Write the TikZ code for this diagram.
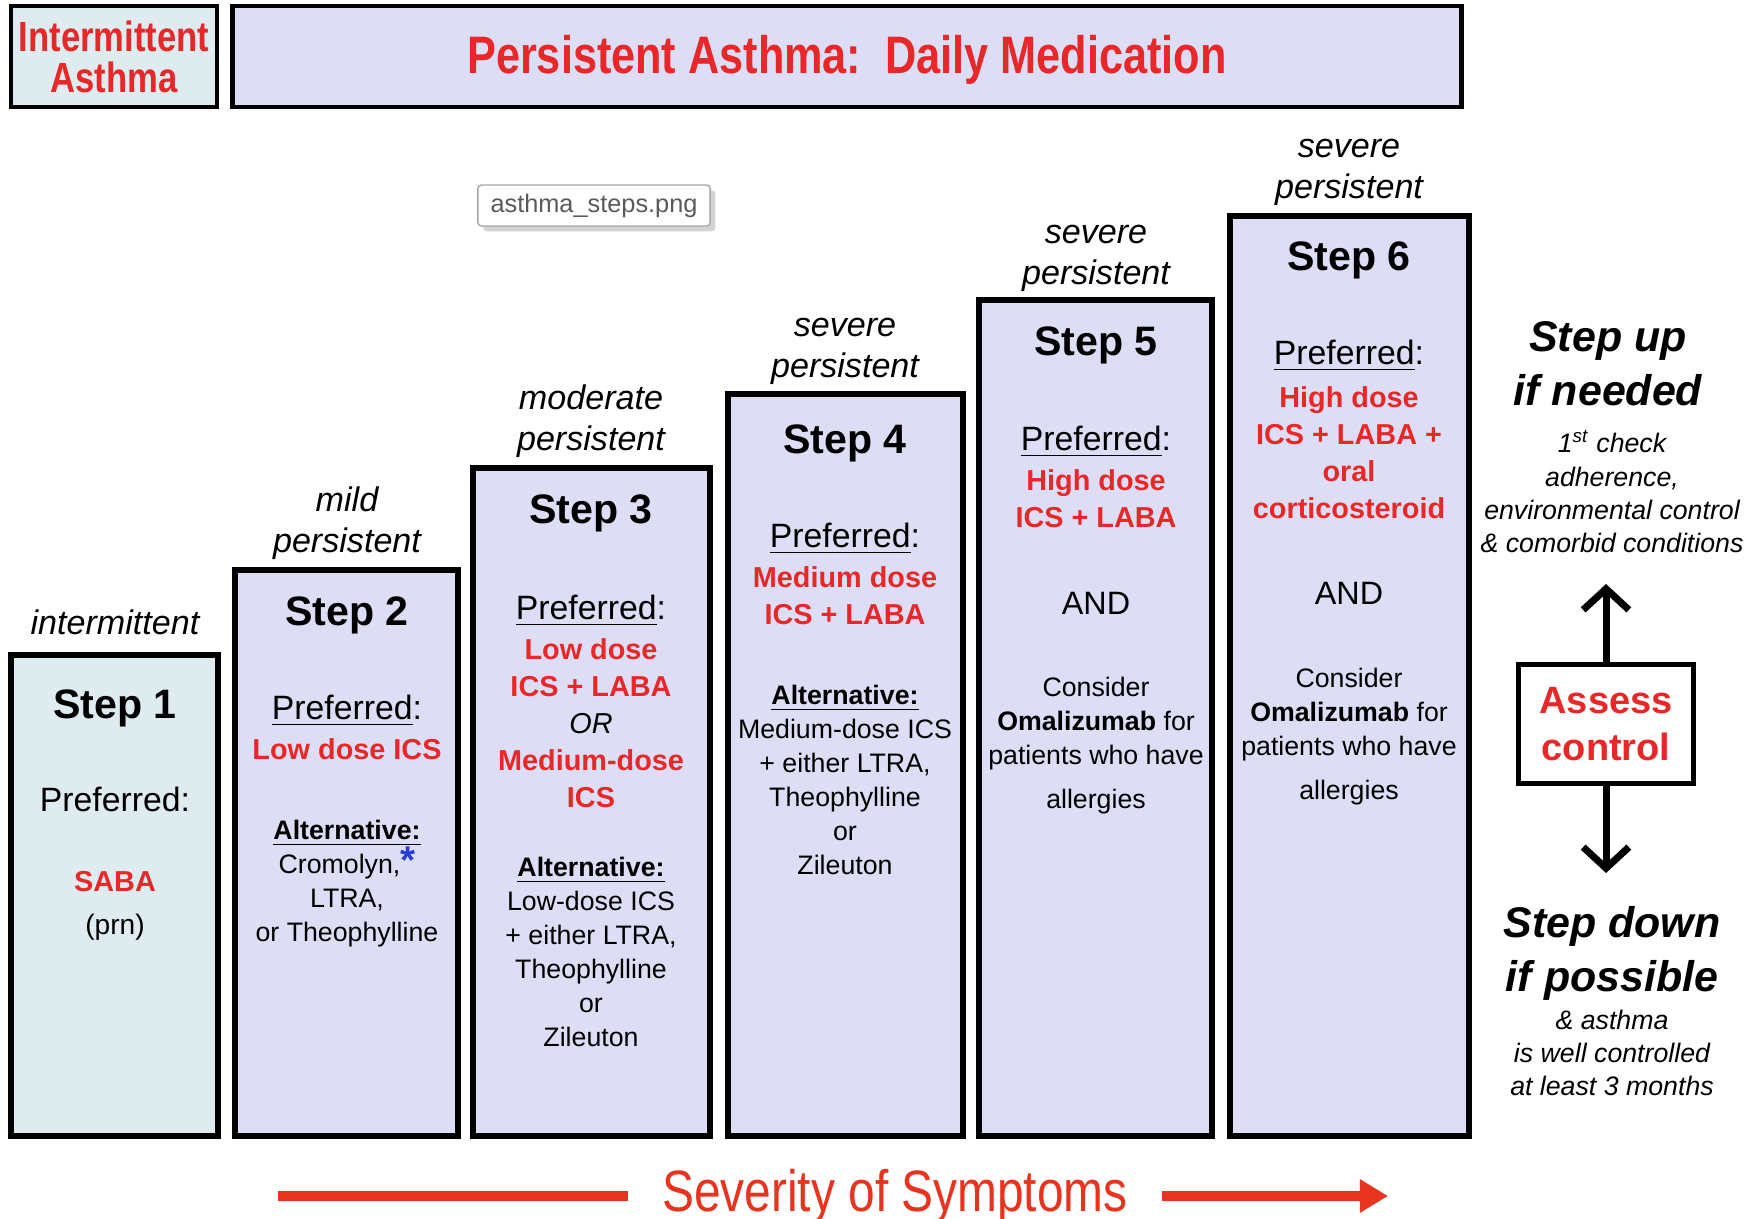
\documentclass[tikz,border=0pt]{standalone}
\usepackage{fontspec}
\setmainfont{Liberation Sans}
\newfontfamily\narrowsans[FakeStretch=0.82]{Liberation Sans}
\usetikzlibrary{arrows.meta,shadows}
\definecolor{lavfill}{RGB}{221,221,245}
\definecolor{mintfill}{RGB}{222,236,240}
\definecolor{medred}{RGB}{232,40,40}
\definecolor{barred}{RGB}{232,52,30}
\definecolor{starblue}{RGB}{40,60,220}
\definecolor{tipgray}{RGB}{90,90,90}

\begin{document}
\begin{tikzpicture}[x=0.01cm, y=-0.01cm,
    every node/.style={inner sep=0pt},
    stepbox/.style={draw, line width=1.5pt},
    headbox/.style={draw, line width=1.3pt, minimum height=1.01cm},
    level/.style={anchor=north, align=center, font=\fontsize{9.7}{11.8}\selectfont\itshape},
    steptitle/.style={anchor=north, font=\fontsize{11.7}{14}\selectfont\bfseries},
    pref/.style={anchor=north, font=\fontsize{9.6}{11.5}\selectfont},
    drug/.style={anchor=north, align=center, text=medred, font=\fontsize{8.2}{10.5}\selectfont\bfseries},
    alt/.style={anchor=north, align=center, font=\fontsize{7.6}{9.7}\selectfont},
    andword/.style={anchor=north, font=\fontsize{9.2}{11}\selectfont},
    bigital/.style={anchor=north, align=center, font=\fontsize{12.2}{15.2}\selectfont\bfseries\itshape},
    smallital/.style={anchor=north, align=center, font=\fontsize{7.6}{9.5}\selectfont\itshape},
    updown/.style={line width=2pt, -{Straight Barb[length=6pt,width=13pt]}},
    sevbar/.style={line width=2.8pt, draw=barred},
  ]
  \useasboundingbox (0,0) rectangle (1755,1219);

  % Headers
  \node[headbox, fill=mintfill, minimum width=2.06cm, align=center, text=medred,
    font=\narrowsans\fontsize{12}{11.7}\selectfont\bfseries] (intbox) at (114,56.5)
    {Intermittent\\Asthma};
  \node[headbox, fill=lavfill, minimum width=12.28cm, text=medred,
    font=\narrowsans\fontsize{15}{18}\selectfont\bfseries] (persbox) at (847,56.5)
    {\raisebox{-1.4pt}[10pt][3pt]{Persistent Asthma:\ \ Daily Medication}};
  \node[draw=gray!70, fill=white, text=tipgray, minimum width=2.32cm, minimum height=0.41cm,
    rounded corners=1pt, drop shadow={shadow xshift=1.5pt, shadow yshift=-1.5pt, opacity=0.35},
    font=\fontsize{7.2}{8}\selectfont] (tip) at (594,205.5) {asthma\_steps.png};

  % Step boxes
  \foreach \l/\r/\t/\c in {11/218/655/mintfill, 235/458/570/lavfill, 473/710/468/lavfill,
      728/963/394/lavfill, 979/1212/300/lavfill, 1230/1469/216/lavfill}
    \draw[stepbox, fill=\c] (\l,\t) rectangle (\r,1136);

  % Step 1
  \node[level] (lvl1) at (115,609) {intermittent};
  \node[steptitle] (st1) at (115,689) {Step 1};
  \node[pref] (pf1) at (115,786) {Preferred:};
  \node[drug] (dr1) at (115,871) {SABA};
  \node[alt, font=\fontsize{8}{9.7}\selectfont] (al1) at (115,913) {(prn)};

  % Step 2
  \node[level] (lvl2) at (347,486) {mild\\persistent};
  \node[steptitle] (st2) at (347,596) {Step 2};
  \node[pref] (pf2) at (347,694) {\underline{Preferred}:};
  \node[drug] (dr2) at (347,738) {Low dose ICS};
  \node[alt] (al2) at (347,819) {\textbf{\underline{Alternative:}}\\
    Cromolyn,{\color{starblue}\fontsize{11}{9.7}\selectfont\textbf{*}}\\LTRA,\\or Theophylline};

  % Step 3
  \node[level] (lvl3) at (591,384) {moderate\\persistent};
  \node[steptitle] (st3) at (591,494) {Step 3};
  \node[pref] (pf3) at (591,594) {\underline{Preferred}:};
  \node[drug] (dr3) at (591,638) {Low dose\\ICS + LABA\\{\mdseries\itshape\color{black}OR}\\Medium-dose\\ICS};
  \node[alt] (al3) at (591,856) {\textbf{\underline{Alternative:}}\\Low-dose ICS\\+ either LTRA,\\Theophylline\\or\\Zileuton};

  % Step 4
  \node[level] (lvl4) at (845,317) {severe\\persistent};
  \node[steptitle] (st4) at (845,424) {Step 4};
  \node[pref] (pf4) at (845,522) {\underline{Preferred}:};
  \node[drug] (dr4) at (845,566) {Medium dose\\ICS + LABA};
  \node[alt] (al4) at (845,684) {\textbf{\underline{Alternative:}}\\Medium-dose ICS\\+ either LTRA,\\Theophylline\\or\\Zileuton};

  % Step 5
  \node[level] (lvl5) at (1096,224) {severe\\persistent};
  \node[steptitle] (st5) at (1096,326) {Step 5};
  \node[pref] (pf5) at (1096,425) {\underline{Preferred}:};
  \node[drug] (dr5) at (1096,469) {High dose\\ICS + LABA};
  \node[andword] (and5) at (1096,592) {AND};
  \node[alt] (om5) at (1096,676) {Consider\\\textbf{Omalizumab} for\\patients who have\\[2.8pt]allergies};

  % Step 6
  \node[level] (lvl6) at (1349,138) {severe\\persistent};
  \node[steptitle] (st6) at (1349,241) {Step 6};
  \node[pref] (pf6) at (1349,339) {\underline{Preferred}:};
  \node[drug] (dr6) at (1349,386) {High dose\\ICS + LABA +\\oral\\corticosteroid};
  \node[andword] (and6) at (1349,582) {AND};
  \node[alt] (om6) at (1349,667) {Consider\\\textbf{Omalizumab} for\\patients who have\\[2.8pt]allergies};

  % Assess control
  \node[bigital] (stepup) at (1608,321) {Step up\\if needed};
  \node[smallital] (checknote) at (1612,430)
    {1\textsuperscript{st} check\\adherence,\\environmental control\\\& comorbid conditions};
  \node[draw, line width=1.2pt, fill=white, minimum width=1.75cm, minimum height=1.19cm,
    align=center, text=medred, font=\fontsize{10.8}{13.4}\selectfont\bfseries] (assess) at (1606,724)
    {Assess\\control};
  \coordinate (uptip) at (1606,584);
  \coordinate (downtip) at (1606,873);
  \draw[updown] (assess.north) -- (uptip);
  \draw[updown] (assess.south) -- (downtip);
  \node[bigital] (stepdown) at (1612,906) {Step down\\if possible};
  \node[smallital] (wellnote) at (1612,1009) {\& asthma\\is well controlled\\at least 3 months};

  % Severity
  \node[inner xsep=9.5pt, text=barred, font=\narrowsans\fontsize{16.6}{19}\selectfont] (severity)
    at (895,1196) {Severity of Symptoms};
  \coordinate (barstart) at (278,1196);
  \coordinate (barend) at (1388,1196);
  \draw[sevbar] (barstart) -- (severity.west);
  \draw[sevbar, -{Triangle[length=8pt,width=9pt]}] (severity.east) -- (barend);
\end{tikzpicture}
\end{document}
